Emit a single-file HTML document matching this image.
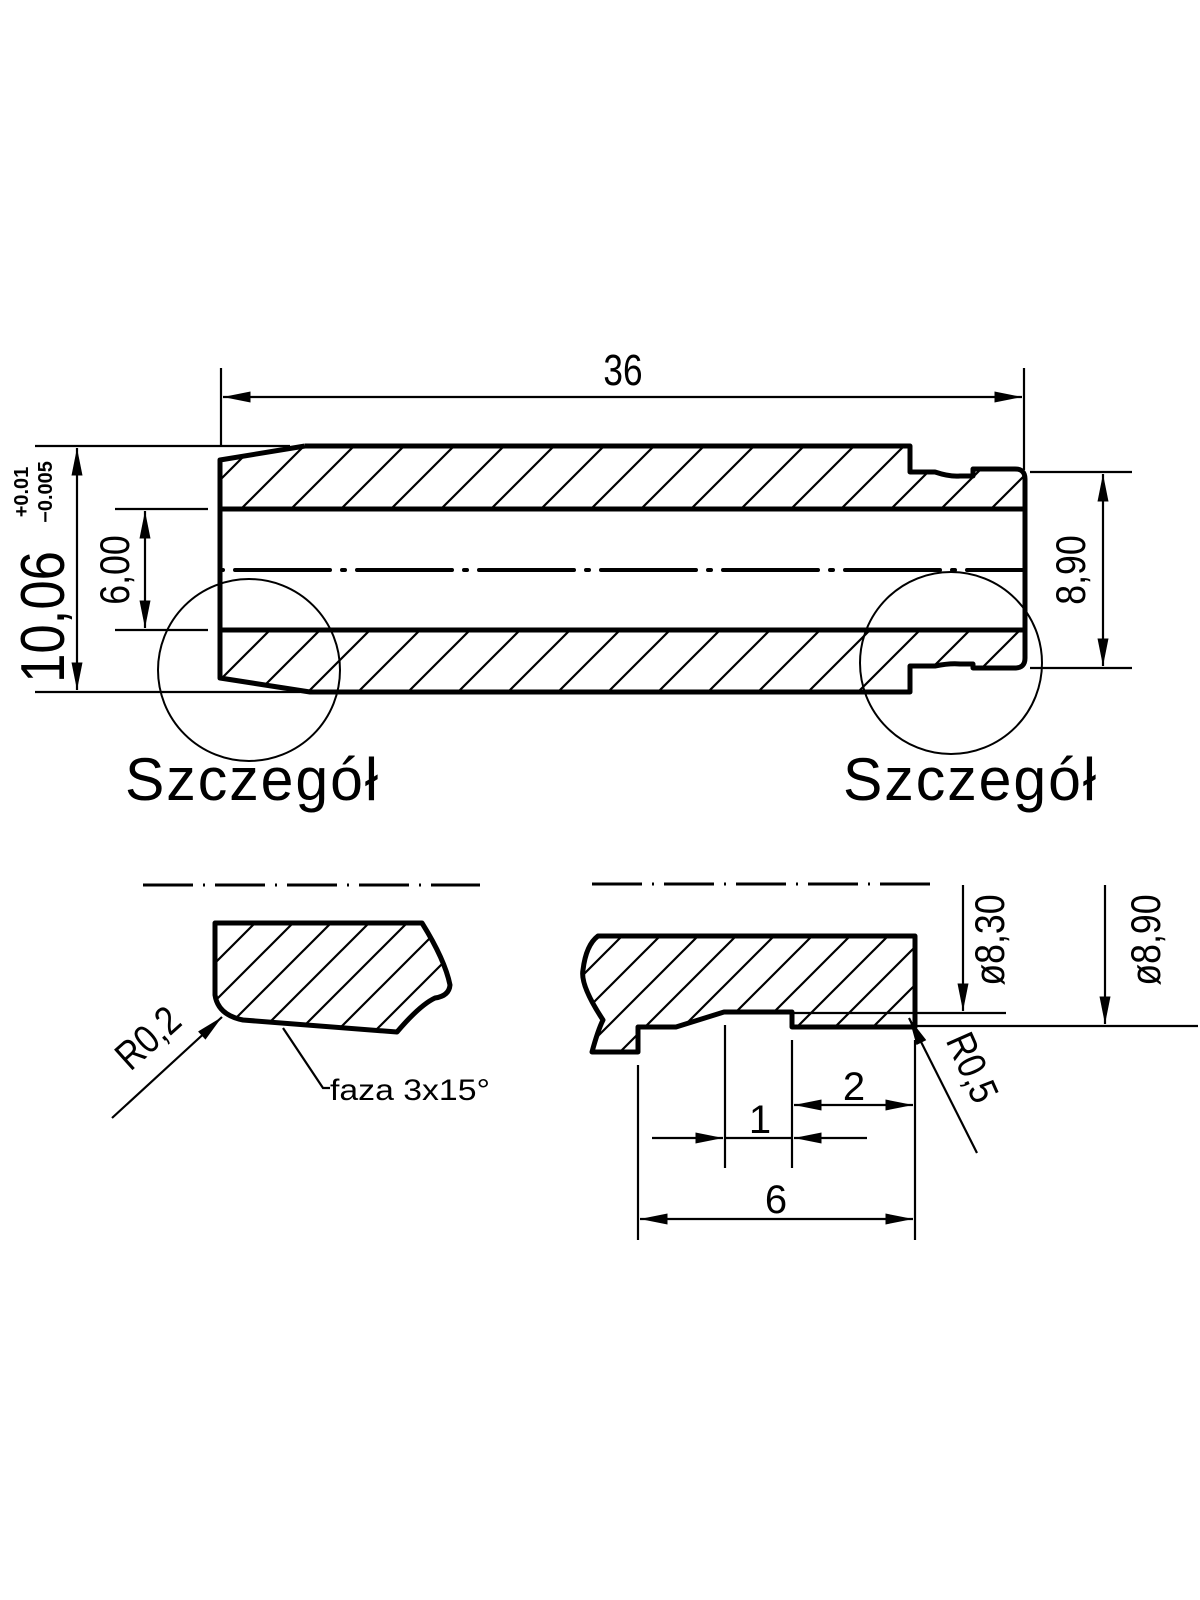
<!DOCTYPE html>
<html><head><meta charset="utf-8"><style>
html,body{margin:0;padding:0;background:#fff}
svg{display:block}
text{font-family:"Liberation Sans",sans-serif;fill:#000}
</style></head><body>
<svg width="1200" height="1600" viewBox="0 0 1200 1600" xmlns="http://www.w3.org/2000/svg">
<defs>
<pattern id="h1" patternUnits="userSpaceOnUse" width="50" height="50">
<path d="M-5,5 L5,-5 M0,50 L50,0 M45,55 L55,45" stroke="#000" stroke-width="2.2"/>
</pattern>
<pattern id="h2" patternUnits="userSpaceOnUse" width="38" height="38">
<path d="M-5,5 L5,-5 M0,38 L38,0 M33,43 L43,33" stroke="#000" stroke-width="2.2"/>
</pattern>
<marker id="a" viewBox="0 0 20 8" refX="20" refY="4" markerWidth="28" markerHeight="11" markerUnits="userSpaceOnUse" orient="auto-start-reverse">
<path d="M0,0 L20,4 L0,8 z" fill="#000"/>
</marker>
</defs>

<!-- MAIN VIEW hatch -->
<polygon points="220,460 305,446 910,446 910,472 973,472 973,469 1025,469 1025,509 220,509" fill="url(#h1)"/>
<polygon points="220,630 1025,630 1025,668 973,668 973,664 910,664 910,692 310,692 220,678" fill="url(#h1)"/>
<g fill="none" stroke="#000" stroke-width="5" stroke-linejoin="round">
<path d="M305,446 L910,446 L910,472 L935,472 Q950,477 960,476 L973,476 L973,469 L1015,469 Q1025,469 1025,479 L1025,658 Q1025,668 1015,668 L973,668 L973,664 L960,664 Q950,663 935,666 L910,666 L910,692 L310,692 L220,678 L220,460 L305,446"/>
<line x1="220" y1="509" x2="1025" y2="509"/>
<line x1="220" y1="630" x2="1025" y2="630"/>
</g>
<line x1="220" y1="570" x2="1025" y2="570" stroke="#000" stroke-width="4" stroke-dasharray="3 12 95 12" stroke-linecap="round"/>
<circle cx="249" cy="670" r="91" fill="none" stroke="#000" stroke-width="2"/>
<circle cx="951" cy="663" r="91" fill="none" stroke="#000" stroke-width="2"/>

<g stroke="#000" stroke-width="2.2" fill="none">
<line x1="221" y1="368" x2="221" y2="446"/>
<line x1="1024" y1="368" x2="1024" y2="470"/>
<line x1="223" y1="397" x2="1022" y2="397" marker-start="url(#a)" marker-end="url(#a)"/>
<line x1="35" y1="446" x2="290" y2="446"/>
<line x1="35" y1="692" x2="300" y2="692"/>
<line x1="77" y1="448" x2="77" y2="690" marker-start="url(#a)" marker-end="url(#a)"/>
<line x1="115" y1="509" x2="208" y2="509"/>
<line x1="115" y1="630" x2="208" y2="630"/>
<line x1="145" y1="511" x2="145" y2="628" marker-start="url(#a)" marker-end="url(#a)"/>
<line x1="1030" y1="472" x2="1132" y2="472"/>
<line x1="1030" y1="668" x2="1132" y2="668"/>
<line x1="1103" y1="474" x2="1103" y2="666" marker-start="url(#a)" marker-end="url(#a)"/>
</g>
<text x="623" y="385" font-size="44" text-anchor="middle" transform="translate(623 0) scale(0.8 1) translate(-623 0)">36</text>
<text transform="translate(64,617) rotate(-90) scale(0.85 1)" font-size="62" text-anchor="middle">10,06</text>
<text transform="translate(28,492) rotate(-90)" font-size="20" font-weight="bold" text-anchor="middle">+0.01</text>
<text transform="translate(52,492) rotate(-90)" font-size="20" font-weight="bold" text-anchor="middle">−0.005</text>
<text transform="translate(129,570) rotate(-90) scale(0.85 1)" font-size="42" text-anchor="middle">6,00</text>
<text transform="translate(1085,570) rotate(-90) scale(0.85 1)" font-size="42" text-anchor="middle">8,90</text>

<text x="125" y="800" font-size="60" letter-spacing="2" textLength="255" lengthAdjust="spacingAndGlyphs">Szczegół</text>
<text x="843" y="800" font-size="60" letter-spacing="2" textLength="255" lengthAdjust="spacingAndGlyphs">Szczegół</text>

<!-- LEFT DETAIL -->
<line x1="143" y1="885" x2="480" y2="885" stroke="#000" stroke-width="3" stroke-dasharray="50 10 2 10"/>
<path d="M215,923 L422,923 Q445,960 450,985 Q449,996 435,998 Q420,1005 397,1032 L243,1020 Q218,1015 215,995 Z" fill="url(#h2)"/>
<path d="M215,923 L422,923 Q445,960 450,985 Q449,996 435,998 Q420,1005 397,1032 L243,1020 Q218,1015 215,995 Z" fill="none" stroke="#000" stroke-width="5" stroke-linejoin="round"/>
<line x1="112" y1="1118" x2="222" y2="1017" stroke="#000" stroke-width="2.2" marker-end="url(#a)"/>
<text transform="translate(157,1048) rotate(-42) scale(0.85 1)" font-size="40" text-anchor="middle">R0,2</text>
<polyline points="283,1028 323,1088 330,1088" fill="none" stroke="#000" stroke-width="2.2"/>
<text x="330" y="1100" font-size="30" textLength="160" lengthAdjust="spacingAndGlyphs">faza 3x15°</text>

<!-- RIGHT DETAIL -->
<line x1="592" y1="884" x2="931" y2="884" stroke="#000" stroke-width="3" stroke-dasharray="50 10 2 10"/>
<path d="M598,936 L915,936 L915,1027 L792,1027 L792,1012 L724,1012 L676,1027 L638,1027 L638,1052 L592,1052 Q598,1030 603,1020 Q580,985 583,970 Q586,945 598,936 Z" fill="url(#h2)"/>
<path d="M598,936 L915,936 L915,1027 L792,1027 L792,1012 L724,1012 L676,1027 L638,1027 L638,1052 L592,1052 Q598,1030 603,1020 Q580,985 583,970 Q586,945 598,936 Z" fill="none" stroke="#000" stroke-width="5" stroke-linejoin="round"/>
<g stroke="#000" stroke-width="2.2" fill="none">
<line x1="792" y1="1013" x2="1006" y2="1013"/>
<line x1="915" y1="1026" x2="1198" y2="1026"/>
<line x1="963" y1="885" x2="963" y2="1011" marker-end="url(#a)"/>
<line x1="1105" y1="885" x2="1105" y2="1024" marker-end="url(#a)"/>
<line x1="977" y1="1153" x2="909" y2="1018" marker-end="url(#a)"/>
<line x1="638" y1="1065" x2="638" y2="1240"/>
<line x1="725" y1="1025" x2="725" y2="1168"/>
<line x1="792" y1="1040" x2="792" y2="1168"/>
<line x1="915" y1="1040" x2="915" y2="1240"/>
<line x1="794" y1="1105" x2="913" y2="1105" marker-start="url(#a)" marker-end="url(#a)"/>
<line x1="652" y1="1138" x2="723" y2="1138" marker-end="url(#a)"/>
<line x1="867" y1="1138" x2="794" y2="1138" marker-end="url(#a)"/>
<line x1="725" y1="1138" x2="792" y2="1138"/>
<line x1="640" y1="1219" x2="913" y2="1219" marker-start="url(#a)" marker-end="url(#a)"/>
</g>
<text transform="translate(1004,940) rotate(-90) scale(0.85 1)" font-size="42" text-anchor="middle">ø8,30</text>
<text transform="translate(1160,940) rotate(-90) scale(0.85 1)" font-size="42" text-anchor="middle">ø8,90</text>
<text transform="translate(960,1073) rotate(66) scale(0.85 1)" font-size="40" text-anchor="middle">R0,5</text>
<text x="854" y="1100" font-size="40" text-anchor="middle">2</text>
<text x="760" y="1133" font-size="40" text-anchor="middle">1</text>
<text x="776" y="1213" font-size="40" text-anchor="middle">6</text>
</svg>
</body></html>
